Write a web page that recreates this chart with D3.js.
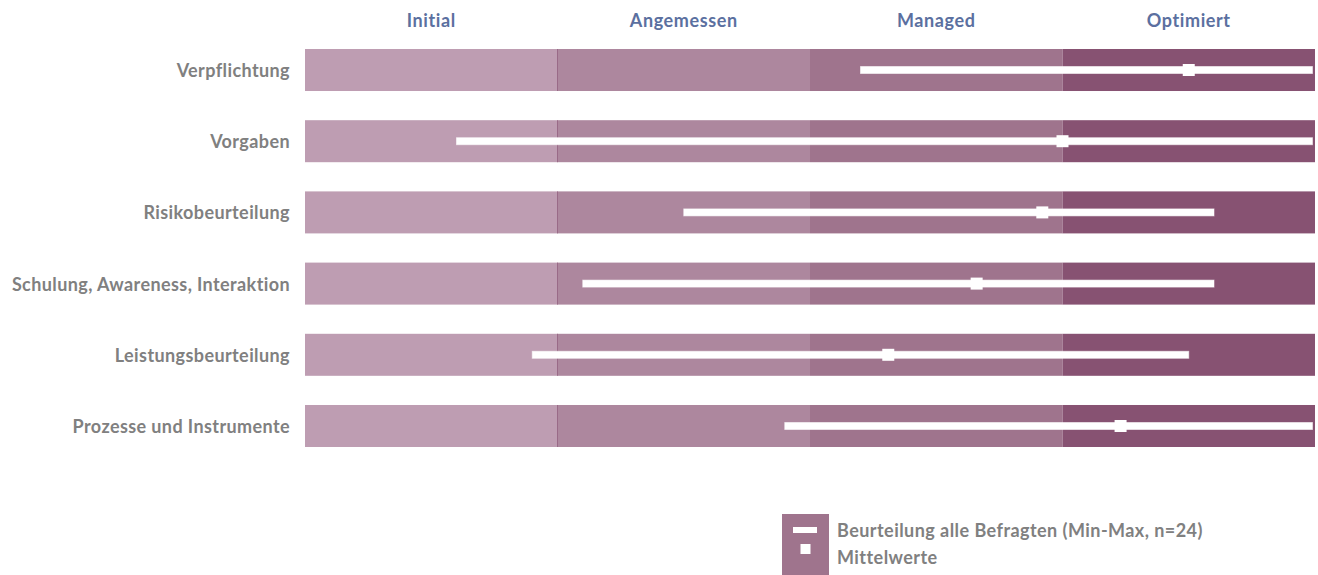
<!DOCTYPE html>
<html>
<head>
<meta charset="utf-8">
<script src="https://cdn.jsdelivr.net/npm/d3@7"></script>
<style>
  body { margin: 0; background: #fff; }
  svg text { font-family: Lato, "Open Sans", sans-serif; font-weight: bold; }
</style>
</head>
<body>
<svg id="chart" width="1318" height="575"></svg>
<script>
/*****************************************************************************/
/* Data */
/*****************************************************************************/
var levels = ['Initial', 'Angemessen', 'Managed', 'Optimiert'];
var levelColors = ['#BE9DB2', '#AD879E', '#9F748D', '#875272'];

var categories = [
  'Verpflichtung',
  'Vorgaben',
  'Risikobeurteilung',
  'Schulung, Awareness, Interaktion',
  'Leistungsbeurteilung',
  'Prozesse und Instrumente'
];
var minValues  = [2.2, 0.6, 1.5, 1.1, 0.9, 1.9];
var maxValues  = [3.99, 3.99, 3.6, 3.6, 3.5, 3.99];
var meanValues = [3.5, 3.0, 2.92, 2.66, 2.31, 3.23];

var legendLabels = ['Beurteilung alle Befragten (Min-Max, n=24)', 'Mittelwerte'];

/*****************************************************************************/
/* Scales */
/*****************************************************************************/
var svg = d3.select('#chart');

var x = d3.scaleLinear().domain([0, levels.length]).range([305, 1315]);
var y = d3.scaleBand().domain(categories).range([49, 447]).paddingInner(0.41).paddingOuter(0);

var rows = categories.map(function (c, i) {
  return {name: c, min: minValues[i], max: maxValues[i], mean: meanValues[i]};
});

/*****************************************************************************/
/* Background bands per row */
/*****************************************************************************/
var rowG = svg.selectAll('g.row')
  .data(rows)
  .enter().append('g')
  .attr('class', 'row')
  .attr('transform', function (d) { return 'translate(0,' + y(d.name) + ')'; });

rowG.selectAll('rect.band')
  .data(levels)
  .enter().append('rect')
  .attr('class', 'band')
  .attr('x', function (d, i) { return x(i); })
  .attr('width', function (d, i) { return x(i + 1) - x(i); })
  .attr('height', y.bandwidth())
  .attr('fill', function (d, i) { return levelColors[i]; });

// thin divider between first and second level
rowG.append('rect')
  .attr('x', x(1) - 0.5)
  .attr('width', 1)
  .attr('height', y.bandwidth())
  .attr('fill', '#996A87');

// min-max line
rowG.append('rect')
  .attr('x', function (d) { return x(d.min); })
  .attr('y', y.bandwidth() / 2 - 3.5)
  .attr('width', function (d) { return x(d.max) - x(d.min); })
  .attr('height', 7)
  .attr('fill', '#fff')
  .attr('stroke', 'rgba(255,255,255,0.55)')
  .attr('stroke-width', 1);

// mean marker
rowG.append('rect')
  .attr('x', function (d) { return x(d.mean) - 6; })
  .attr('y', y.bandwidth() / 2 - 6)
  .attr('width', 12)
  .attr('height', 12)
  .attr('fill', '#fff');

/*****************************************************************************/
/* Labels */
/*****************************************************************************/
rowG.append('text')
  .attr('x', 290)
  .attr('y', y.bandwidth() / 2 + 7)
  .attr('text-anchor', 'end')
  .attr('fill', '#808080')
  .style('font-size', '18px')
  .style('letter-spacing', '0.4px')
  .text(function (d) { return d.name; });

svg.selectAll('text.level')
  .data(levels)
  .enter().append('text')
  .attr('class', 'level')
  .attr('x', function (d, i) { return (x(i) + x(i + 1)) / 2; })
  .attr('y', 27)
  .attr('text-anchor', 'middle')
  .attr('fill', '#5B70A0')
  .style('font-size', '18px')
  .style('letter-spacing', '0.6px')
  .text(function (d) { return d; });

/*****************************************************************************/
/* Legend */
/*****************************************************************************/
var legend = svg.append('g').attr('transform', 'translate(782,514)');

legend.append('rect')
  .attr('width', 47)
  .attr('height', 61)
  .attr('fill', levelColors[2]);

legend.append('rect')
  .attr('x', 11)
  .attr('y', 13)
  .attr('width', 24)
  .attr('height', 6)
  .attr('fill', '#fff');

legend.append('rect')
  .attr('x', 18.5)
  .attr('y', 30)
  .attr('width', 10)
  .attr('height', 10)
  .attr('fill', '#fff');

legend.selectAll('text')
  .data(legendLabels)
  .enter().append('text')
  .attr('x', 55)
  .attr('y', function (d, i) { return 23 + i * 27; })
  .attr('fill', '#808080')
  .style('font-size', '18px')
  .style('letter-spacing', '0.45px')
  .text(function (d) { return d; });
</script>
</body>
</html>
